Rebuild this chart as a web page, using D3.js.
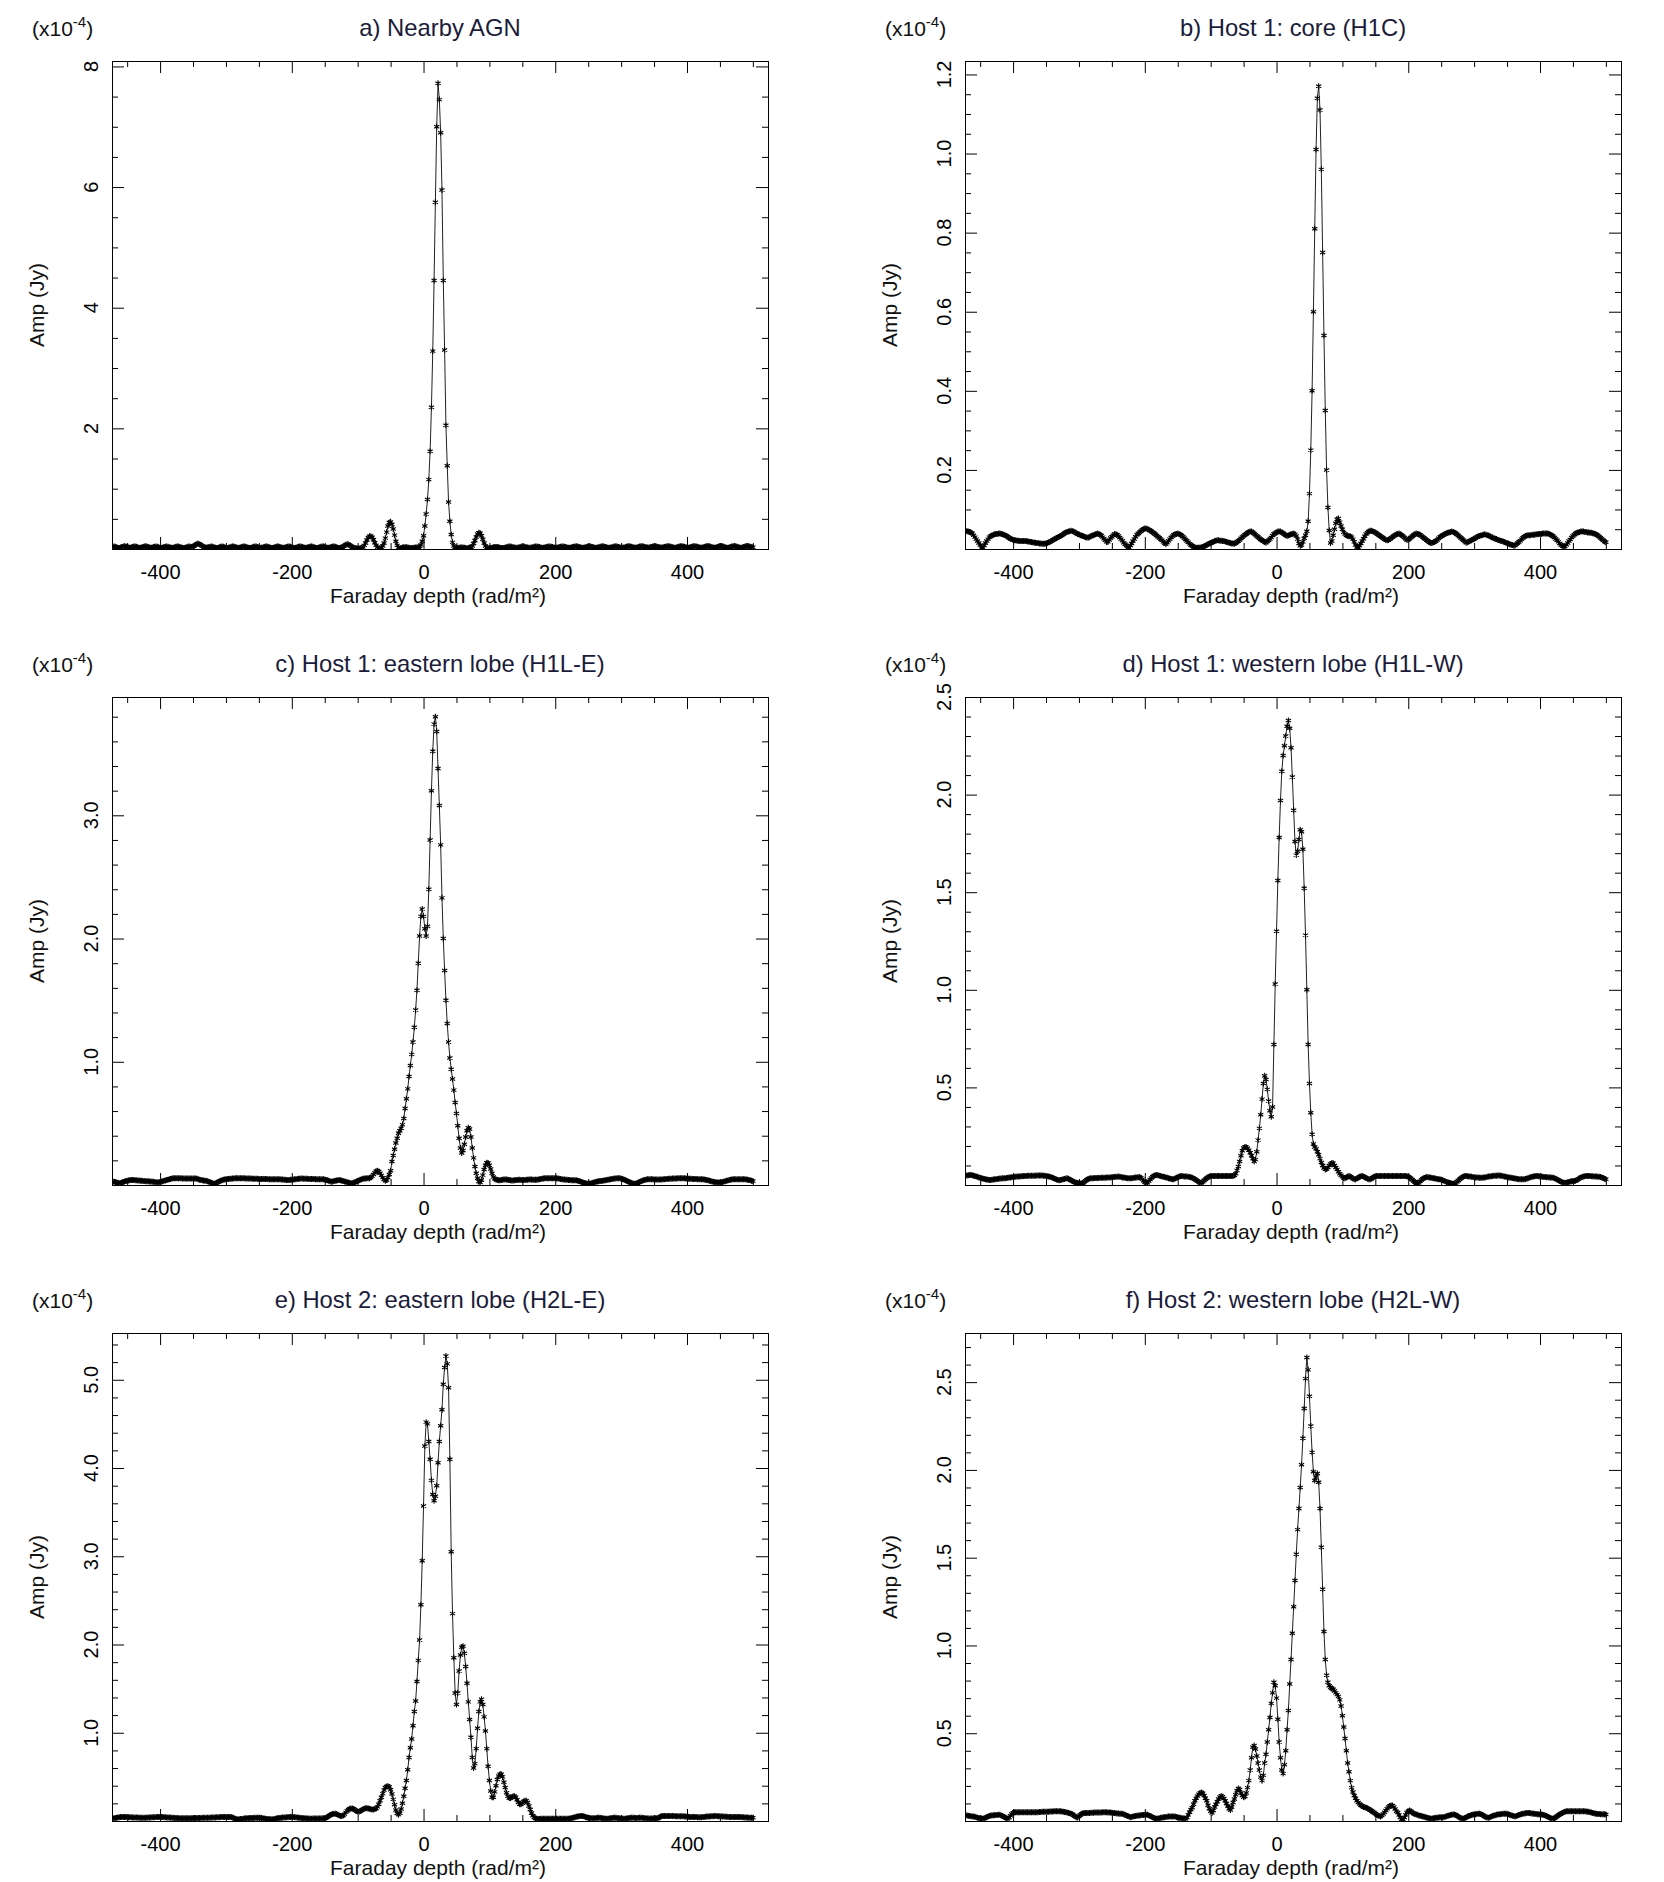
<!DOCTYPE html>
<html><head><meta charset="utf-8">
<script src="https://cdn.jsdelivr.net/npm/d3@7"></script>
<style>body{margin:0;background:#fff}text{font-family:"Liberation Sans",Arial,Helvetica,sans-serif}</style>
</head><body>
<svg id="chart" width="1664" height="1882"></svg>
<script>
// Faraday depth grid: first value and step (rad/m^2)
const phiStart = -472, phiStep = 2;
const phiDomain = [-473, 523];
const xMajorTicks = [-400, -200, 0, 200, 400];
const xMinorStep = 50;
const xLabel = "Faraday depth (rad/m\u00B2)";
const yLabel = "Amp (Jy)";
const titles = ["a) Nearby AGN", "b) Host 1: core (H1C)", "c) Host 1: eastern lobe (H1L-E)",
  "d) Host 1: western lobe (H1L-W)", "e) Host 2: eastern lobe (H2L-E)", "f) Host 2: western lobe (H2L-W)"];
// amplitudes in units of 0.001 x 1e-4 Jy, one value per grid point (-472 ... 500)
const ampA = [
40,42,38,30,22,18,25,35,42,45,40,
32,24,20,26,34,40,42,38,30,22,20,26,35,42,44,40,32,24,20,24,32,38,40,36,28,
20,18,24,32,38,40,36,30,24,20,22,30,38,42,40,34,26,20,18,22,30,36,40,38,32,
40,55,72,85,88,80,65,48,35,28,24,26,32,38,40,36,28,20,16,20,28,36,40,38,30,
22,18,22,30,38,42,40,34,26,20,20,26,34,40,42,38,30,22,18,22,30,38,42,40,34,
26,20,20,26,34,40,42,38,30,22,18,22,30,38,42,40,34,26,20,20,26,34,40,42,38,
30,22,18,22,30,38,42,40,34,26,20,20,26,34,40,42,38,30,22,18,22,30,38,42,40,
34,26,20,20,26,34,40,42,38,30,22,18,22,30,40,55,70,78,75,62,45,30,22,16,12,
10,8,12,22,35,60,100,150,190,210,212,195,155,105,60,30,12,8,20,50,100,180,280,380,440,
450,410,330,230,130,60,22,10,15,25,30,30,28,24,20,18,18,20,22,24,25,28,40,65,130,
220,380,580,820,1150,1620,2350,3280,4450,5750,7000,7720,7450,6900,5950,4450,3300,2050,1380,780,460,240,110,50,30,
22,18,20,24,26,24,20,16,14,16,20,30,50,90,140,200,250,270,260,220,160,100,50,22,12,
12,16,22,28,32,34,32,28,22,18,16,18,24,30,36,40,40,36,30,24,20,20,24,30,36,
40,40,36,30,24,20,20,24,30,36,40,42,38,32,26,22,22,26,32,38,42,42,38,32,26,
22,22,26,32,38,42,42,38,32,26,22,22,26,32,38,42,44,40,34,28,22,20,24,30,38,
42,44,40,34,28,22,20,24,30,38,42,44,40,34,28,22,20,24,30,38,42,44,40,34,28,
22,20,24,30,38,44,46,42,36,30,24,22,26,32,40,44,44,40,34,28,24,24,28,34,40,
44,44,40,34,28,24,24,28,34,40,44,46,42,36,30,24,22,26,32,40,44,46,42,36,30,
24,22,26,32,40,44,46,42,36,30,24,22,26,32,40,46,48,44,38,30,24,22,26,34,42,
48,48,44,36,28,22,20,24,32,40,46,48,44,38,30,24,22,26,34,42,48,48,44,36,30,
28];
const ampB = [
46,45,44,43,41,40,35,30,25,20,15,
10,6,3,9,15,20,25,30,32,34,36,37,38,38,39,39,38,37,36,35,33,31,28,26,25,
23,22,22,21,21,20,20,20,20,20,20,19,19,18,18,17,16,16,15,15,14,14,13,13,13,
14,15,17,18,20,22,24,26,28,30,31,33,35,37,40,42,43,44,45,46,45,44,42,40,38,
37,35,34,33,31,30,29,29,30,32,34,35,36,38,39,38,36,34,30,26,22,18,18,23,28,
31,35,38,37,36,33,29,25,21,16,12,9,6,3,9,14,20,25,31,36,39,42,45,48,50,
52,52,50,49,47,45,42,40,37,34,31,28,25,22,18,15,12,16,21,25,29,32,36,37,38,
39,38,36,34,31,27,24,20,17,13,10,8,5,4,3,3,3,4,4,5,7,8,10,12,14,
15,17,18,20,21,22,22,21,21,20,20,19,18,17,16,15,14,14,13,15,18,20,23,27,30,
33,36,38,41,43,44,44,42,39,36,33,30,27,24,22,20,18,16,19,22,25,29,34,38,40,
42,44,44,44,42,40,37,35,33,34,36,37,38,39,37,33,25,14,8,10,18,27,35,45,70,
140,250,400,600,810,1010,1140,1170,1110,960,750,540,350,200,105,47,15,20,35,50,65,75,77,68,58,
50,42,38,35,33,32,32,30,25,18,10,5,3,8,14,20,26,32,38,41,44,46,46,45,43,
42,39,37,34,32,30,27,25,23,22,23,25,28,30,33,35,37,38,39,37,35,32,29,26,23,
24,26,29,32,35,37,39,38,37,36,33,30,28,25,22,20,17,15,15,17,18,20,23,27,30,
32,34,36,38,40,41,42,43,44,43,42,40,37,34,31,28,25,22,19,16,17,19,21,22,24,
26,28,30,32,33,34,35,36,37,36,35,34,32,30,29,27,26,25,23,22,21,20,19,18,16,
15,14,12,11,10,9,9,12,15,18,21,25,28,31,33,34,35,35,35,36,36,36,37,37,38,
38,38,39,39,39,39,39,38,36,34,32,29,25,22,18,14,10,8,6,6,11,15,20,24,29,
33,36,39,41,42,43,44,44,44,43,43,42,42,41,41,40,39,38,36,34,31,28,25,22,19,
17];
const ampC = [
30,27,24,21,18,15,15,20,24,28,32,
35,37,39,40,41,40,39,38,37,36,35,34,33,32,31,30,30,29,28,27,27,25,23,21,22,
25,28,31,34,37,40,43,46,49,52,54,55,55,55,54,54,54,53,53,53,53,52,52,52,52,
52,52,52,50,46,43,40,38,36,35,34,30,26,22,18,14,11,12,18,24,30,35,39,42,45,
47,48,49,50,51,52,53,54,54,55,55,55,54,54,54,53,53,52,52,52,51,51,50,50,50,
49,49,49,48,48,48,48,47,47,47,47,47,46,46,46,46,46,45,44,43,42,41,40,40,42,
43,44,46,47,48,50,51,52,52,51,51,50,50,49,49,48,48,48,47,47,47,47,46,46,46,
44,41,38,34,30,27,29,32,34,36,38,40,38,35,32,29,26,23,20,17,15,14,18,23,28,
33,38,43,47,50,52,53,54,55,55,60,70,85,100,112,115,110,95,78,60,45,35,40,60,85,
115,190,240,290,340,380,420,440,460,490,540,620,700,780,880,970,1060,1160,1280,1420,1580,1800,2020,2180,2240,
2180,2080,2020,2100,2400,2800,3200,3520,3740,3800,3680,3380,3080,2760,2330,2000,1740,1500,1310,1160,1030,940,860,770,670,
580,480,380,300,260,280,330,390,440,465,455,390,300,220,150,95,55,28,20,40,80,125,160,180,178,
160,130,95,65,50,44,40,38,38,40,42,44,45,44,42,40,38,37,37,38,40,41,42,42,41,
40,40,41,42,43,44,44,44,43,42,42,43,45,47,49,51,53,54,55,55,55,54,54,55,55,
55,54,52,50,48,46,45,44,43,42,41,40,39,38,38,38,38,35,32,28,24,20,17,14,12,
11,11,13,16,20,23,26,28,30,32,33,35,37,39,41,43,45,47,49,50,52,53,54,55,55,
52,48,44,40,35,30,25,20,16,13,11,11,15,20,25,30,34,38,41,44,46,46,46,46,46,
45,45,45,44,44,44,45,46,47,48,49,50,50,51,52,52,53,53,54,54,55,55,55,54,53,
52,51,50,50,49,49,48,48,47,47,46,46,46,45,43,41,38,35,32,29,26,24,22,21,20,
20,22,25,28,31,34,37,40,43,45,46,46,46,46,46,46,46,46,46,46,45,43,40,38,35,
33];
const ampD = [
48,49,50,51,51,50,48,46,44,42,39,
37,35,33,31,29,28,27,26,26,27,28,29,30,31,32,33,33,34,34,35,36,37,38,39,40,
41,42,42,43,44,44,45,45,46,46,46,47,47,47,48,48,48,48,49,49,49,49,49,48,47,
46,45,43,42,40,37,34,31,28,26,24,25,27,29,31,33,34,32,28,24,20,17,14,12,10,
9,8,7,10,16,22,27,31,33,34,35,35,36,36,36,36,37,37,37,37,37,38,38,39,39,
40,41,41,42,42,43,42,41,39,38,37,36,35,34,34,35,36,37,38,39,40,41,37,30,22,
15,11,12,20,28,36,42,47,50,51,50,48,46,44,42,41,39,37,35,33,31,29,30,33,37,
40,43,45,46,45,44,43,43,42,41,40,37,33,29,25,21,16,11,12,17,23,29,35,40,44,
46,46,46,46,46,46,46,46,46,46,46,46,46,46,46,46,46,46,50,58,75,95,120,150,175,
190,195,194,188,178,165,150,135,120,130,170,230,290,360,440,520,560,540,490,430,380,350,400,720,1030,
1300,1560,1780,1970,2120,2200,2250,2300,2350,2380,2340,2240,2090,1920,1760,1690,1710,1770,1820,1810,1720,1520,1280,1000,720,
520,370,260,210,195,186,170,155,135,115,100,87,80,82,90,100,108,113,112,100,90,80,68,58,50,
42,36,35,38,43,46,43,38,33,30,30,33,37,42,45,46,44,40,36,32,30,29,32,37,42,
45,46,46,46,46,46,46,46,46,46,46,46,46,46,46,46,46,46,46,46,46,46,46,46,45,
42,38,33,27,21,15,10,7,12,19,26,32,36,39,41,40,39,38,36,35,34,32,31,30,29,
27,25,22,19,16,14,12,10,8,7,7,11,17,23,29,35,40,44,46,46,45,44,43,42,41,
40,39,38,38,37,37,37,38,39,40,42,43,44,45,46,47,48,48,49,49,48,47,45,44,42,
41,39,38,37,36,35,33,32,31,30,30,29,29,29,31,33,35,38,40,42,44,45,46,46,45,
44,43,42,41,41,40,40,39,38,38,37,35,32,28,24,20,17,14,12,12,12,14,16,18,19,
20,20,22,26,30,34,38,41,43,45,46,46,46,46,45,45,44,44,43,42,42,41,39,36,32,
29];
const ampE = [
30,32,35,38,40,42,44,45,45,45,44,
44,43,42,42,41,40,40,39,39,38,38,37,37,37,37,38,39,40,41,42,42,43,44,44,45,
45,45,44,43,42,41,40,39,38,37,36,35,34,33,32,32,31,31,30,30,30,30,31,31,32,
32,33,33,34,34,35,35,36,36,36,37,37,37,38,39,40,41,41,42,43,43,44,44,45,45,
45,45,45,45,45,40,32,25,20,19,20,22,24,26,28,30,31,32,33,34,35,35,36,36,37,
37,36,34,31,28,26,24,22,21,20,19,21,24,27,30,33,35,37,39,40,41,42,43,44,45,
45,44,43,42,40,38,36,35,33,32,30,29,28,27,26,26,27,27,28,28,29,29,29,30,30,
30,36,45,55,65,74,80,83,83,78,70,63,58,56,62,78,98,115,128,138,143,142,135,124,113,
105,105,112,122,132,140,144,144,142,138,134,131,131,135,142,160,190,230,270,310,350,380,390,393,385,
355,305,245,185,125,85,72,88,135,200,280,370,460,580,720,830,930,1080,1240,1360,1580,1820,2050,2450,2950,
3570,4250,4520,4500,4300,4100,3860,3700,3630,3680,3800,4060,4300,4480,4660,4950,5140,5270,5180,4910,4100,3050,2350,1850,1450,
1320,1450,1700,1880,1970,1980,1900,1750,1560,1350,1150,950,720,600,650,820,1050,1240,1350,1380,1320,1180,1020,820,620,
460,340,270,270,330,400,470,510,530,530,500,440,380,320,280,260,260,270,280,280,270,240,210,190,190,
200,220,230,230,210,170,130,90,60,40,30,25,24,24,25,26,26,26,26,26,26,26,26,26,26,
26,26,26,26,26,26,26,26,26,26,26,28,31,35,39,43,47,51,54,56,56,56,52,45,40,
36,33,31,30,30,32,34,36,37,36,34,31,28,26,25,26,28,31,34,36,37,36,34,32,30,
28,26,25,26,28,31,34,36,37,37,36,35,35,36,37,37,36,34,32,30,28,27,27,28,29,
30,30,30,32,40,50,56,56,56,56,56,56,56,56,56,56,55,55,55,55,55,55,54,52,50,
48,47,46,45,45,45,45,44,43,42,42,43,45,46,48,50,51,52,53,54,55,56,56,55,54,
53,52,51,50,49,48,47,46,46,45,45,45,45,45,45,44,44,43,42,41,40,39,38,38,37,
37];
const ampF = [
35,32,30,28,27,26,26,24,21,19,17,
15,14,13,16,19,22,26,29,31,32,33,33,34,34,35,35,32,28,24,20,16,13,20,30,40,
46,50,50,50,50,50,50,50,50,50,50,50,50,50,50,50,50,50,50,50,51,51,52,52,52,
53,53,53,54,54,54,55,55,55,56,56,55,54,53,51,50,48,46,44,42,38,32,27,22,20,
27,34,40,44,45,45,46,46,46,47,47,47,48,48,48,49,49,49,50,50,50,50,49,48,48,
47,46,45,44,43,43,42,42,41,38,35,31,28,25,22,23,25,27,29,30,31,32,33,34,34,
35,35,35,33,29,25,21,17,14,13,14,16,18,19,21,22,23,24,25,25,26,26,26,25,23,
21,19,18,16,15,14,13,20,35,50,65,75,95,115,130,142,152,160,162,158,145,130,115,90,70,
55,45,60,80,95,110,125,137,143,138,128,115,100,85,70,63,80,105,125,150,172,185,180,160,145,
135,140,160,190,230,290,360,420,430,410,370,330,290,250,230,260,330,380,450,520,590,670,730,790,770,
700,580,450,360,290,270,320,400,520,630,780,920,1070,1220,1370,1520,1660,1780,1900,2030,2180,2350,2520,2640,2570,
2420,2250,2100,1990,1940,1960,1980,1930,1780,1560,1320,1080,920,830,790,770,760,755,750,740,730,720,710,690,655,
600,535,470,400,330,280,230,190,165,145,130,115,105,97,90,85,80,78,75,72,68,63,58,52,48,
42,36,31,28,26,32,40,50,60,70,80,86,88,88,80,68,55,48,35,20,10,8,20,35,48,
56,60,55,48,43,40,37,35,32,30,28,26,24,22,20,17,15,13,14,16,17,18,19,20,21,
21,22,22,24,27,30,32,34,36,37,37,34,30,25,20,16,14,13,17,21,25,28,31,34,36,
38,39,40,41,41,40,36,31,26,22,20,19,22,25,28,31,33,35,37,38,39,40,41,41,41,
41,39,36,33,30,28,26,28,31,34,37,40,42,43,44,45,45,45,44,43,42,41,40,39,38,
37,37,36,34,31,28,24,20,17,14,13,16,21,27,33,38,42,46,50,53,55,56,56,56,56,
56,56,56,56,56,56,56,56,56,55,54,53,52,50,48,46,44,42,41,40,40,39,39,38,38,
37];
// y axes (units of 1e-4 Jy)
const yMaxes = [8.09, 1.234, 3.96, 2.5, 5.53, 2.78];
const yMajorTicks = [[2,4,6,8],[0.2,0.4,0.6,0.8,1.0,1.2],[1,2,3],[0.5,1,1.5,2,2.5],[1,2,3,4,5],[0.5,1,1.5,2,2.5]];
const yMinorSteps = [0.5, 0.05, 0.2, 0.1, 0.2, 0.1];
const yDecimals = [0, 1, 1, 1, 1, 1];

const allAmps = [ampA, ampB, ampC, ampD, ampE, ampF];
const colX = [112, 965], rowY = [61, 697, 1333];
const W = 656, H = 488;
const svg = d3.select("#chart");
svg.append("rect").attr("width",1664).attr("height",1882).attr("fill","#fff");

const x = d3.scaleLinear().domain(phiDomain).range([0, W]);
const xMinor = d3.range(-450, 501, xMinorStep).filter(v => !xMajorTicks.includes(v));

allAmps.forEach((amp, k) => {
  const g = svg.append("g").attr("transform", `translate(${colX[k%2]},${rowY[Math.floor(k/2)]})`);
  const y = d3.scaleLinear().domain([0, yMaxes[k]]).range([H, 0]);
  const step = yMinorSteps[k];
  const nMin = Math.floor(yMaxes[k]/step + 1e-9);
  const yMinor = d3.range(1, nMin+1).map(i => +(i*step).toFixed(4))
    .filter(v => !yMajorTicks[k].some(m => Math.abs(m - v) < 1e-6));

  const clipId = "clip" + k;
  g.append("clipPath").attr("id", clipId).append("rect").attr("width", W).attr("height", H);

  // data line + asterisk markers
  const pts = amp.map((v, i) => [x(phiStart + i*phiStep), y(v/1000)]);
  const dg = g.append("g").attr("clip-path", `url(#${clipId})`);
  dg.append("path").attr("d", d3.line()(pts)).attr("fill","none").attr("stroke","#222").attr("stroke-width",1);
  const r = 3, c = Math.cos(Math.PI/6)*r, s = Math.sin(Math.PI/6)*r;
  let d = "";
  pts.forEach(([px,py]) => {
    d += `M${px},${py-r}L${px},${py+r}M${px-c},${py-s}L${px+c},${py+s}M${px-c},${py+s}L${px+c},${py-s}`;
  });
  dg.append("path").attr("d", d).attr("fill","none").attr("stroke","#000").attr("stroke-width",1.1);

  // axes with inward ticks
  const axes = [];
  axes.push(g.append("g").attr("transform",`translate(0,${H})`)
    .call(d3.axisBottom(x).tickValues(xMajorTicks).tickSize(-12).tickPadding(16).tickFormat(v => String(v))));
  axes.push(g.append("g").attr("transform",`translate(0,${H})`)
    .call(d3.axisBottom(x).tickValues(xMinor).tickSize(-6).tickFormat("")));
  axes.push(g.append("g").call(d3.axisTop(x).tickValues(xMajorTicks).tickSize(-12).tickFormat("")));
  axes.push(g.append("g").call(d3.axisTop(x).tickValues(xMinor).tickSize(-6).tickFormat("")));
  axes.push(g.append("g").call(d3.axisLeft(y).tickValues(yMajorTicks[k]).tickSize(-12).tickFormat("")));
  axes.push(g.append("g").call(d3.axisLeft(y).tickValues(yMinor).tickSize(-6).tickFormat("")));
  axes.push(g.append("g").attr("transform",`translate(${W},0)`).call(d3.axisRight(y).tickValues(yMajorTicks[k]).tickSize(-12).tickFormat("")));
  axes.push(g.append("g").attr("transform",`translate(${W},0)`).call(d3.axisRight(y).tickValues(yMinor).tickSize(-6).tickFormat("")));
  axes.forEach(a => {
    a.select(".domain").remove();
    a.selectAll(".tick line").attr("stroke","#000").attr("stroke-width",1);
    a.selectAll(".tick text").attr("font-size",20).attr("fill","#000")
      .attr("font-family",'"Liberation Sans",Arial,Helvetica,sans-serif');
  });

  // frame
  g.append("rect").attr("x",0.5).attr("y",0.5).attr("width",W).attr("height",H)
    .attr("fill","none").attr("stroke","#000").attr("stroke-width",1);

  // rotated y tick labels
  const fmt = d3.format(`.${yDecimals[k]}f`);
  g.selectAll(".ylab").data(yMajorTicks[k]).enter().append("text")
    .attr("transform", v => `translate(-14,${y(v)}) rotate(-90)`)
    .attr("text-anchor","middle").attr("font-size",20).attr("fill","#000").text(v => fmt(v));

  // titles and labels
  g.append("text").attr("x", W/2).attr("y", -25).attr("text-anchor","middle")
    .attr("font-size",23.8).attr("fill","#1b1b3a").text(titles[k]);
  const ex = g.append("text").attr("x", -80).attr("y", -25).attr("font-size",21).attr("fill","#111");
  ex.append("tspan").text("(x10");
  ex.append("tspan").attr("dy",-9).attr("font-size",15).text("-4");
  ex.append("tspan").attr("dy",9).text(")");
  g.append("text").attr("transform", `translate(-68,${H/2}) rotate(-90)`).attr("text-anchor","middle")
    .attr("font-size",21).attr("fill","#111").text(yLabel);
  g.append("text").attr("x", W/2 - 2).attr("y", H + 54).attr("text-anchor","middle")
    .attr("font-size",21).attr("fill","#111").text(xLabel);
});
</script>
</body></html>
